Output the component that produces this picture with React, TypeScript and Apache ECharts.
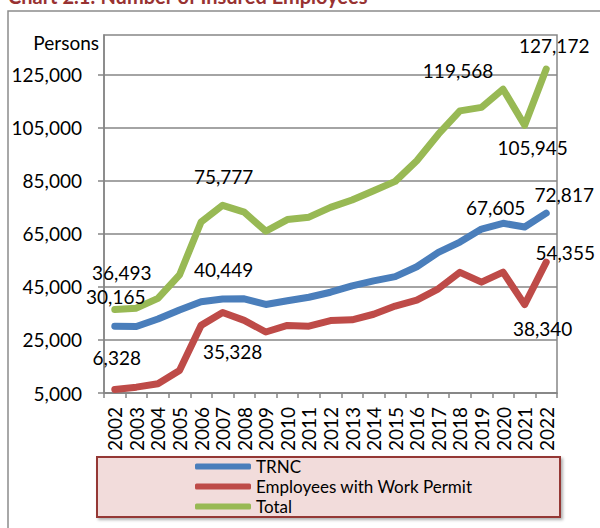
import React, { useEffect, useRef } from 'react';
import * as echarts from 'echarts';

const years = ['2002', '2003', '2004', '2005', '2006', '2007', '2008', '2009', '2010', '2011', '2012', '2013', '2014', '2015', '2016', '2017', '2018', '2019', '2020', '2021', '2022'];
const trnc = [30165, 30100, 32900, 36300, 39400, 40449, 40500, 38400, 39800, 41100, 43000, 45400, 47300, 48900, 52600, 58000, 61900, 66800, 69000, 67605, 72817];
const workPermit = [6328, 7200, 8500, 13500, 30500, 35328, 32400, 28000, 30500, 30200, 32300, 32600, 34700, 37800, 40000, 44300, 50500, 46800, 50568, 38340, 54355];
const total = [36493, 37000, 40700, 49500, 69500, 75777, 73200, 66000, 70400, 71300, 75000, 77800, 81300, 84800, 92600, 102600, 111400, 112700, 119568, 105945, 127172];
const seriesNames = ['TRNC', 'Employees with Work Permit', 'Total'];
const yTicks = [5000, 25000, 45000, 65000, 85000, 105000, 125000];

// label offsets (px) for the labelled points, index -> [dx, dy]
const trncLabels: Record<number, [number, number]> = { 0: [1, -30], 5: [1, -29], 19: [-29, -19], 20: [18, -19] };
const wpLabels: Record<number, [number, number]> = { 0: [2, -32], 5: [10, 39], 19: [18, 24], 20: [19, -10] };
const totalLabels: Record<number, [number, number]> = { 0: [7, -37], 5: [1, -29], 18: [-45, -19], 19: [8, 22], 20: [8, -24] };

const FONT = 'Lato, "Open Sans", sans-serif';
const fmt = (v: number) => v.toLocaleString('en-US');

function buildData(values: number[], labels: Record<number, [number, number]>) {
  return values.map((v, i) => {
    const off = labels[i];
    if (!off) return v;
    return {
      value: v,
      label: {
        show: true,
        position: 'inside',
        offset: off,
        formatter: (p: any) => fmt(p.value),
        color: '#000',
        fontSize: 19,
        fontFamily: FONT,
        align: 'center',
        verticalAlign: 'middle',
      },
    };
  });
}

function lineSeries(name: string, values: number[], labels: Record<number, [number, number]>, color: string) {
  return {
    name,
    type: 'line',
    data: buildData(values, labels),
    symbol: 'circle',
    symbolSize: 0.1,
    itemStyle: { color },
    lineStyle: { color, width: 7, cap: 'round', join: 'round' },
    label: { show: false },
    emphasis: { disabled: true },
  };
}

export default function App() {
  const ref = useRef<HTMLDivElement>(null);
  useEffect(() => {
    const chart = echarts.init(ref.current!, null, { renderer: 'svg' });
    chart.setOption({
      animation: false,
      backgroundColor: '#fff',
      textStyle: { fontFamily: FONT },
      grid: { left: 104, right: 43, top: 35, bottom: 135, show: true, borderColor: '#868686', borderWidth: 1.5, backgroundColor: 'transparent' },
      xAxis: {
        type: 'category',
        data: years,
        boundaryGap: true,
        axisLine: { lineStyle: { color: '#868686', width: 1.5 } },
        axisTick: { show: true, length: 5, lineStyle: { color: '#868686', width: 1.5 } },
        axisLabel: { rotate: 90, interval: 0, margin: 14, fontSize: 19, color: '#000', fontFamily: FONT },
      },
      yAxis: {
        type: 'value',
        min: 5000,
        max: 140000,
        interval: 20000,
        axisLine: { show: true, lineStyle: { color: '#868686', width: 1.5 } },
        axisTick: { show: true, length: 6, lineStyle: { color: '#868686', width: 1.5 }, customValues: yTicks },
        splitLine: { show: true, lineStyle: { color: '#868686', width: 1.5 } },
        axisLabel: { margin: 22, fontSize: 19, color: '#000', fontFamily: FONT, customValues: yTicks, formatter: (v: number) => fmt(v) },
      },
      legend: {
        data: seriesNames,
        orient: 'vertical',
        left: 190,
        top: 458,
        itemWidth: 56,
        itemHeight: 6,
        itemGap: 3,
        icon: 'roundRect',
        z: 10,
        padding: [0, 5, 0, 5],
        textStyle: { fontSize: 17, color: '#000', fontFamily: FONT, lineHeight: 17 },
      },
      graphic: [
        { type: 'rect', z: -10, shape: { x: 8, y: 11, width: 640, height: 600 }, style: { fill: 'none', stroke: '#8c8c8c', lineWidth: 1.5 } },
        { type: 'text', z: 5, x: 8, y: -4, style: { text: 'Chart 2.1: Number of Insured Employees', font: `bold 20px ${FONT}`, fill: '#983232', verticalAlign: 'middle' } },
        { type: 'text', z: 5, x: 99, y: 42, style: { text: 'Persons', font: `19px ${FONT}`, fill: '#000', align: 'right', verticalAlign: 'middle' } },
        { type: 'rect', z: 1, shape: { x: 97, y: 457, width: 463, height: 60 }, style: { fill: '#f2dcdb', stroke: '#953735', lineWidth: 2, shadowBlur: 3, shadowOffsetX: 2, shadowOffsetY: 2, shadowColor: 'rgba(0,0,0,0.3)' } },
      ],
      series: [
        lineSeries(seriesNames[0], trnc, trncLabels, '#4a7ebb'),
        lineSeries(seriesNames[1], workPermit, wpLabels, '#be4b48'),
        lineSeries(seriesNames[2], total, totalLabels, '#98b954'),
      ],
    });
    return () => chart.dispose();
  }, []);
  return <div ref={ref} style={{ position: 'fixed', left: 0, top: 0, width: 600, height: 528, background: '#fff' }} />;
}
